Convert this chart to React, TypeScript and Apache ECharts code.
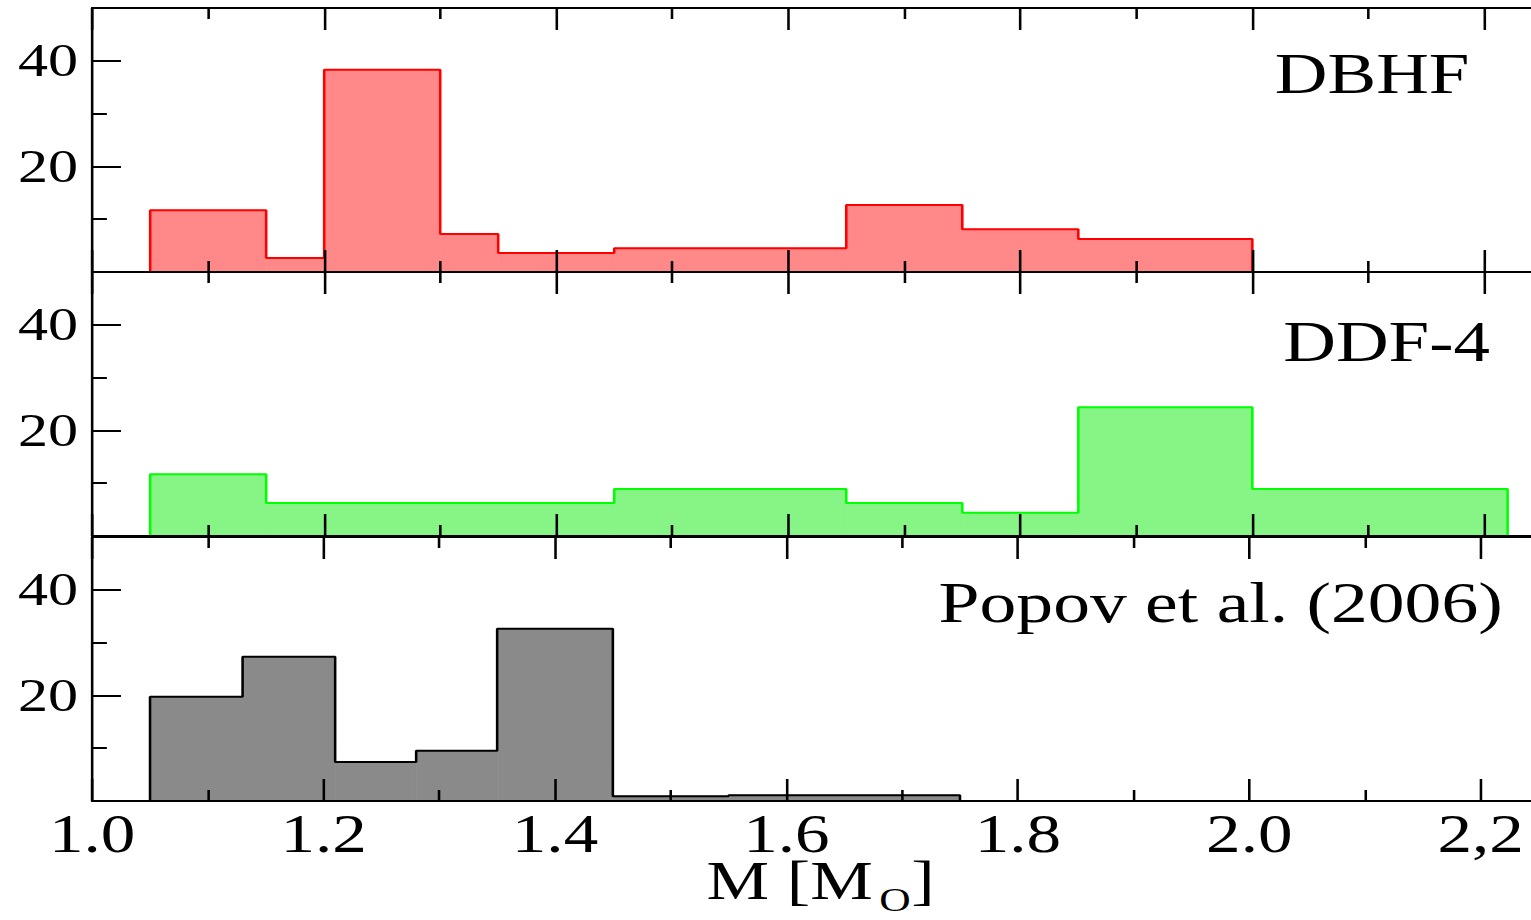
import React, { useEffect, useRef } from 'react';
import * as echarts from 'echarts';

// The reference figure is horizontally stretched and cropped on the right;
// we draw at a narrower width, stretch it, and let the window crop the right edge.
const STRETCH = 1.28;
const CHART_W = 1205;
const CHART_H = 920;

const FONT = 'Liberation Serif';

const xTickLabels = ['1.0', '1.2', '1.4', '1.6', '1.8', '2.0', '2,2'];
const xMajorTicks = [1.0, 1.2, 1.4, 1.6, 1.8, 2.0, 2.2];
const xMinorTicks = [1.1, 1.3, 1.5, 1.7, 1.9, 2.1];
const yTickLabels = ['20', '40'];
const panelNames = ['DBHF', 'DDF-4', 'Popov et al. (2006)'];

// DBHF histogram (bin edges and counts)
const dbhfEdges = [1.05, 1.15, 1.2, 1.3, 1.35, 1.45, 1.65, 1.75, 1.85, 2.0];
const dbhfCounts = [11.7, 2.65, 38.3, 7.2, 3.6, 4.5, 12.7, 8.1, 6.25];

// DDF-4 histogram
const ddfEdges = [1.05, 1.15, 1.45, 1.65, 1.75, 1.85, 2.0, 2.22];
const ddfCounts = [11.7, 6.25, 8.9, 6.25, 4.4, 24.4, 8.9];

// Popov et al. (2006) histogram
const popovEdges = [1.05, 1.13, 1.21, 1.28, 1.35, 1.45, 1.55, 1.65, 1.75];
const popovCounts = [19.75, 27.3, 7.4, 9.5, 32.6, 0.9, 1.1, 1.1];

const fillColors = ['#ff8888', '#86f586', '#8a8a8a'];
const lineColors = ['#ff0000', '#00ff00', '#000000'];

const X_MIN = 1.0;
const X_MAX = 2.25;
const Y_MIN = 0;
const Y_MAX = 50;

const panels = [
  { edges: dbhfEdges, counts: dbhfCounts },
  { edges: ddfEdges, counts: ddfCounts },
  { edges: popovEdges, counts: popovCounts },
];

const gridLayout = [
  { top: 8, height: 264 },
  { top: 272, height: 264 },
  { top: 537, height: 264 },
];

function xLabel(v: number): string {
  const i = Math.round((v - X_MIN) / 0.2);
  if (Math.abs(v - (X_MIN + i * 0.2)) > 1e-6) return '';
  return xTickLabels[i] ?? '';
}

function yLabel(v: number): string {
  const s = String(Math.round(v));
  return yTickLabels.includes(s) && Math.abs(v - Math.round(v)) < 1e-6 ? s : '';
}

function buildOption() {
  const grid: any[] = [];
  const xAxis: any[] = [];
  const yAxis: any[] = [];
  const series: any[] = [];

  const axisLineStyle = { color: '#000', width: 2 };

  gridLayout.forEach((g, i) => {
    grid.push({ left: 72, right: 0, top: g.top, height: g.height, containLabel: false });
    const isLast = i === gridLayout.length - 1;
    const xBase = {
      gridIndex: i,
      type: 'value',
      min: X_MIN,
      max: X_MAX,
      splitLine: { show: false },
      z: 10,
    };
    // bottom major
    xAxis.push({
      ...xBase,
      position: 'bottom',
      interval: 0.2,
      axisLine: { show: true, onZero: false, lineStyle: axisLineStyle },
      axisTick: {
        show: true,
        inside: true,
        length: 22,
        customValues: xMajorTicks,
        lineStyle: { color: '#000', width: 2 },
      },
      axisLabel: {
        show: isLast,
        formatter: xLabel,
        fontFamily: FONT,
        fontSize: 54,
        lineHeight: 44,
        color: '#000',
        margin: 11,
      },
    });
    // bottom minor
    xAxis.push({
      ...xBase,
      position: 'bottom',
      interval: 0.1,
      axisLine: { show: false, onZero: false },
      axisTick: {
        show: true,
        inside: true,
        length: 11,
        customValues: xMinorTicks,
        lineStyle: { color: '#000', width: 2 },
      },
      axisLabel: { show: false },
    });
    // top major
    xAxis.push({
      ...xBase,
      position: 'top',
      interval: 0.2,
      axisLine: { show: true, onZero: false, lineStyle: axisLineStyle },
      axisTick: {
        show: true,
        inside: true,
        length: 22,
        customValues: xMajorTicks,
        lineStyle: { color: '#000', width: 2 },
      },
      axisLabel: { show: false },
    });
    // top minor
    xAxis.push({
      ...xBase,
      position: 'top',
      interval: 0.1,
      axisLine: { show: false, onZero: false },
      axisTick: {
        show: true,
        inside: true,
        length: 11,
        customValues: xMinorTicks,
        lineStyle: { color: '#000', width: 2 },
      },
      axisLabel: { show: false },
    });

    const yBase = {
      gridIndex: i,
      type: 'value',
      min: Y_MIN,
      max: Y_MAX,
      position: 'left',
      splitLine: { show: false },
      z: 10,
    };
    yAxis.push({
      ...yBase,
      interval: 20,
      axisLine: { show: true, onZero: false, lineStyle: axisLineStyle },
      axisTick: { show: true, inside: true, length: 22.5, lineStyle: { color: '#000', width: 2 } },
      axisLabel: {
        show: true,
        formatter: yLabel,
        fontFamily: FONT,
        fontSize: 47,
        color: '#000',
        margin: 11,
      },
    });
    yAxis.push({
      ...yBase,
      interval: 10,
      axisLine: { show: false, onZero: false },
      axisTick: { show: true, inside: true, length: 11.5, lineStyle: { color: '#000', width: 2 } },
      axisLabel: { show: false },
    });

    const { edges, counts } = panels[i];
    const bins = counts.map((c, k) => [edges[k], edges[k + 1], c]);
    const fill = fillColors[i];
    series.push({
      type: 'custom',
      xAxisIndex: 4 * i,
      yAxisIndex: 2 * i,
      data: bins,
      encode: { x: [0, 1], y: 2 },
      z: 2,
      renderItem: (params: any, api: any) => {
        const p0 = api.coord([api.value(0), api.value(2)]);
        const p1 = api.coord([api.value(1), 0]);
        return {
          type: 'rect',
          shape: { x: p0[0], y: p0[1], width: p1[0] - p0[0], height: p1[1] - p0[1] },
          style: { fill, stroke: fill, lineWidth: 0.6 },
        };
      },
    });

    const outline: number[][] = [[edges[0], 0]];
    counts.forEach((c, k) => {
      outline.push([edges[k], c]);
      outline.push([edges[k + 1], c]);
    });
    outline.push([edges[edges.length - 1], 0]);
    series.push({
      type: 'line',
      xAxisIndex: 4 * i,
      yAxisIndex: 2 * i,
      data: outline,
      symbol: 'none',
      lineStyle: { color: lineColors[i], width: 2 },
      z: 3,
      silent: true,
    });
  });

  const titleStyle = (text: string, size: number) => ({
    text,
    fontFamily: FONT,
    fontSize: size,
    fill: '#000',
    align: 'right',
    verticalAlign: 'middle',
  });

  const graphic: any[] = [
    { type: 'text', x: 1148, y: 74, style: titleStyle(panelNames[0], 57), z: 20 },
    { type: 'text', x: 1164, y: 342, style: titleStyle(panelNames[1], 57), z: 20 },
    { type: 'text', x: 1174, y: 602, style: titleStyle(panelNames[2], 57.5), z: 20 },
    {
      type: 'text',
      x: 552,
      y: 881,
      style: {
        text: 'M [M',
        fontFamily: FONT,
        fontSize: 55,
        lineHeight: 40,
        fill: '#000',
        align: 'left',
        verticalAlign: 'middle',
      },
      z: 20,
    },
    {
      type: 'text',
      x: 687,
      y: 899,
      style: {
        text: 'O',
        fontFamily: FONT,
        fontSize: 34,
        lineHeight: 24,
        fill: '#000',
        align: 'left',
        verticalAlign: 'middle',
      },
      z: 20,
    },
    {
      type: 'text',
      x: 712,
      y: 881,
      style: {
        text: ']',
        fontFamily: FONT,
        fontSize: 55,
        lineHeight: 40,
        fill: '#000',
        align: 'left',
        verticalAlign: 'middle',
      },
      z: 20,
    },
  ];

  return {
    animation: false,
    backgroundColor: '#fff',
    grid,
    xAxis,
    yAxis,
    series,
    graphic,
  };
}

export default function App() {
  const ref = useRef<HTMLDivElement>(null);
  useEffect(() => {
    if (!ref.current) return;
    const chart = echarts.init(ref.current, null, { renderer: 'svg' });
    chart.setOption(buildOption() as any);
    return () => chart.dispose();
  }, []);
  return (
    <div
      ref={ref}
      style={{
        position: 'fixed',
        left: 0,
        top: 0,
        width: CHART_W,
        height: CHART_H,
        transform: `scaleX(${STRETCH})`,
        transformOrigin: '0 0',
        background: '#fff',
      }}
    />
  );
}
